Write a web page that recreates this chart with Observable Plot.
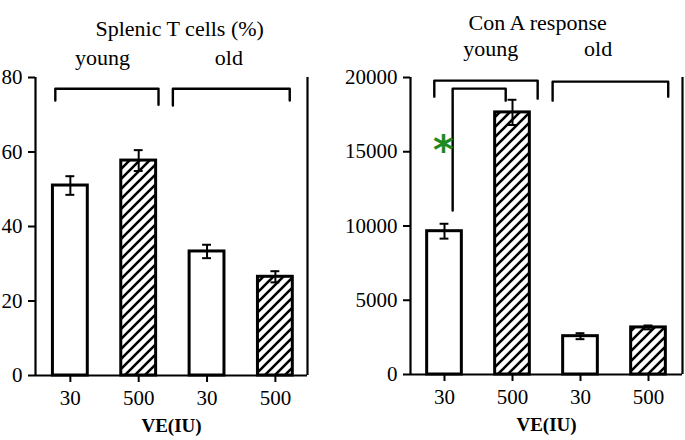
<!DOCTYPE html>
<html><head><meta charset="utf-8">
<script src="https://cdn.jsdelivr.net/npm/d3@7"></script>
<script src="https://cdn.jsdelivr.net/npm/@observablehq/plot@0.6"></script>
<style>
body{margin:0;background:#fff;}
#wrap{display:flex;width:685px;height:440px;}
#wrap svg{overflow:visible;display:block}
</style></head><body>
<svg width="0" height="0" style="position:absolute">
<defs><pattern id="hatch" patternUnits="userSpaceOnUse" width="10" height="10">
<rect width="10" height="10" fill="white"/>
<path d="M-2,2 l4,-4 M0,10 l10,-10 M8,12 l4,-4" stroke="black" stroke-width="2.6"/>
</pattern></defs></svg>
<div id="wrap"></div>
<script>
// ---- data ----
const doses = ["30", "500", "30", "500"];
const ages = ["young", "young", "old", "old"];
const tcellMean = [51.0, 57.7, 33.3, 26.5];
const tcellSE = [2.5, 2.8, 1.8, 1.5];
const conaMean = [9650, 17650, 2580, 3170];
const conaSE = [500, 850, 200, 130];
const tcellTicks = [0, 20, 40, 60, 80];
const conaTicks = [0, 5000, 10000, 15000, 20000];
const titles = ["Splenic T cells (%)", "Con A response"];
const xLabel = "VE(IU)";

// annotation brackets (x in bar-index units, y in data units)
const tcellBrackets = [
  {label: "young", x1: 0.78, x2: 2.29, y: 77, yl: 73.8, yr: 72.7},
  {label: "old", x1: 2.50, x2: 4.21, y: 77, yl: 72.5, yr: 73.8}
];
const tcellGroupLabels = [{text: "young", x: 1.47, y: 85.2}, {text: "old", x: 3.32, y: 85.2}];
const conaBrackets = [
  {label: "young", x1: 0.85, x2: 2.37, y: 19790, yl: 18710, yr: 18575},
  {label: "old", x1: 2.59, x2: 4.29, y: 19720, yl: 18440, yr: 18710},
  {label: "sig", x1: 1.12, x2: 1.90, y: 19250, yl: 11040, yr: 18440}
];
const conaGroupLabels = [{text: "young", x: 1.68, y: 21950}, {text: "old", x: 3.26, y: 21950}];
const sigMark = [{text: "*", x: 0.985, y: 15610}];

function bracketPoints(bs) {
  return bs.flatMap(b => [
    {z: b.label, x: b.x1, y: b.yl},
    {z: b.label, x: b.x1, y: b.y},
    {z: b.label, x: b.x2, y: b.y},
    {z: b.label, x: b.x2, y: b.yr}
  ]);
}

const serif = "Liberation Serif";

function panel({means, ses, ticks, ymax, xdomain, marginLeft, marginRight, width, marginBottom, brackets, labels, title, titleX, titleDy, extra = []}) {
  const rows = doses.map((d, i) => ({i: i + 1, dose: d, age: ages[i], mean: means[i], se: ses[i]}));
  const open = rows.filter(d => d.dose === "30");
  const hatched = rows.filter(d => d.dose === "500");
  return Plot.plot({
    width, height: 440, marginLeft, marginRight, marginTop: 77, marginBottom,
    x: {domain: xdomain, label: null},
    y: {domain: [0, ymax], label: null},
    style: {fontFamily: serif, fontSize: "21px", color: "black", background: "white"},
    marks: [
      Plot.axisX({ticks: [1, 2, 3, 4], tickSize: 7, strokeWidth: 2, text: null, label: null}),
      Plot.axisY({ticks, tickSize: 7, strokeWidth: 2, text: null, label: null}),
      Plot.text(rows, {x: "i", frameAnchor: "bottom", dy: 29, text: "dose", fontSize: 21, fontFamily: serif}),
      Plot.text(ticks, {y: d => d, frameAnchor: "left", dx: -13, textAnchor: "end", text: d => String(d), fontSize: 21, fontFamily: serif}),
      Plot.ruleX([xdomain[0], xdomain[1]], {y1: 0, y2: ymax, strokeWidth: 2.2}),
      Plot.ruleY([0], {strokeWidth: 2.2}),
      Plot.rectY(open, {x1: d => d.i - 0.255, x2: d => d.i + 0.255, y: "mean", fill: "white", stroke: "black", strokeWidth: 3}),
      Plot.rectY(hatched, {x1: d => d.i - 0.255, x2: d => d.i + 0.255, y: "mean", fill: "url(#hatch)", stroke: "black", strokeWidth: 3}),
      Plot.ruleX(rows, {x: "i", y1: d => d.mean - d.se, y2: d => d.mean + d.se, strokeWidth: 2}),
      Plot.ruleY(rows, {y: d => d.mean + d.se, x1: d => d.i - 0.065, x2: d => d.i + 0.065, strokeWidth: 2}),
      Plot.ruleY(rows, {y: d => d.mean - d.se, x1: d => d.i - 0.065, x2: d => d.i + 0.065, strokeWidth: 2}),
      Plot.line(bracketPoints(brackets), {x: "x", y: "y", z: "z", stroke: "black", strokeWidth: 2.4, curve: "linear"}),
      Plot.text(labels, {x: "x", y: "y", text: "text", fontSize: 22, fontFamily: serif}),
      Plot.text([title], {x: () => titleX, frameAnchor: "top", dy: titleDy, text: d => d, fontSize: 22, fontFamily: serif}),
      Plot.text([xLabel], {frameAnchor: "bottom", dy: 56, text: d => d, fontSize: 19, fontWeight: "bold", fontFamily: serif}),
      ...extra
    ]
  });
}

const wrap = document.getElementById("wrap");
wrap.append(panel({
  means: tcellMean, ses: tcellSE, ticks: tcellTicks, ymax: 80,
  xdomain: [0.49, 4.47], marginLeft: 35, marginRight: 35, width: 342, marginBottom: 65,
  brackets: tcellBrackets, labels: tcellGroupLabels,
  title: titles[0], titleX: 2.60, titleDy: -57
}));
wrap.append(panel({
  means: conaMean, ses: conaSE, ticks: conaTicks, ymax: 20000,
  xdomain: [0.5, 4.5], marginLeft: 68, marginRight: 3, width: 343, marginBottom: 66,
  brackets: conaBrackets, labels: conaGroupLabels,
  title: titles[1], titleX: 2.37, titleDy: -63,
  extra: [Plot.text(sigMark, {x: "x", y: "y", text: "text", fill: "#1f8a1f", fontSize: 40, fontWeight: "bold", fontFamily: "DejaVu Sans", dy: 8})]
}));
</script>
</body></html>
